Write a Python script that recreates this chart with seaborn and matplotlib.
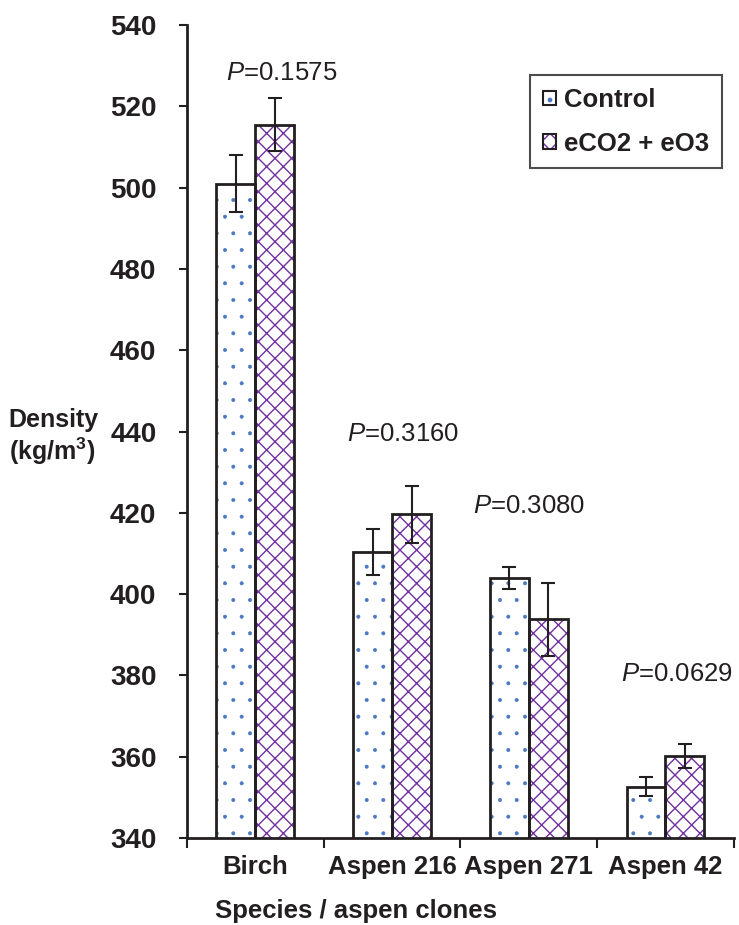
import pandas as pd
import matplotlib.pyplot as plt
import seaborn as sns
from matplotlib.patches import Patch
from matplotlib.legend_handler import HandlerTuple
from matplotlib.ticker import FixedLocator

# Dados
especies = ['Birch', 'Aspen 216', 'Aspen 271', 'Aspen 42']
tratamentos = ['Control', 'eCO2 + eO3']
controle = [501.0, 410.3, 403.9, 352.6]
controle_erro = [7.0, 5.7, 2.7, 2.3]
elevado = [515.5, 419.6, 393.8, 360.2]
elevado_erro = [6.5, 7.0, 9.0, 3.0]
p_valores = ['0.1575', '0.3160', '0.3080', '0.0629']
p_x = [0.19, 1.08, 2.00, 3.08]
p_altura = [528.3, 439.4, 421.8, 380.3]

df = pd.DataFrame({
    'Especie': especies * 2,
    'Tratamento': [tratamentos[0]] * 4 + [tratamentos[1]] * 4,
    'Densidade': controle + elevado,
    'Erro': controle_erro + elevado_erro,
})

sns.set_style('white')
plt.rcParams['font.family'] = ['Liberation Sans', 'DejaVu Sans']
plt.rcParams['mathtext.fontset'] = 'custom'
plt.rcParams['mathtext.it'] = 'Liberation Sans:italic'
plt.rcParams['mathtext.rm'] = 'Liberation Sans'
plt.rcParams['mathtext.bf'] = 'Liberation Sans:bold'
plt.rcParams['hatch.linewidth'] = 1.0

preto = '#231f20'
tam = 18.5

fig = plt.figure(figsize=(7.39, 9.25), dpi=100)
ax = fig.add_axes([0.253, 0.094, 0.74, 0.879])

cores_hatch = {'Control': '#4a78c0', 'eCO2 + eO3': '#7030a0'}
hatches = {'Control': '.', 'eCO2 + eO3': 'xx'}
larg_hatch = {'Control': 0.4, 'eCO2 + eO3': 1.0}

# Preenchimento com hachura
sns.barplot(data=df, x='Especie', y='Densidade', hue='Tratamento', hue_order=tratamentos,
            palette=['white', 'white'], width=0.57, gap=0, errorbar=None, legend=False, ax=ax)
n = len(especies)
for i, barra in enumerate(ax.patches[:2 * n]):
    trat = tratamentos[i // n]
    barra.set_hatch(hatches[trat])
    barra.set_edgecolor(cores_hatch[trat])
    barra.set_linewidth(0)
    if hasattr(barra, 'set_hatch_linewidth'):
        barra.set_hatch_linewidth(larg_hatch[trat])

# Contorno preto
sns.barplot(data=df, x='Especie', y='Densidade', hue='Tratamento', hue_order=tratamentos,
            palette=['white', 'white'], width=0.57, gap=0, errorbar=None, legend=False,
            fill=False, ax=ax)
for barra in ax.patches[2 * n:]:
    barra.set_edgecolor(preto)
    barra.set_linewidth(2)

# Barras de erro
for i, barra in enumerate(ax.patches[:2 * n]):
    xc = barra.get_x() + barra.get_width() / 2
    ax.errorbar(xc, df['Densidade'][i], yerr=df['Erro'][i], color=preto,
                capsize=5, elinewidth=1.5, capthick=1.5, zorder=5)

# Valores de P
for i in range(len(especies)):
    ax.text(p_x[i], p_altura[i], f'$\\mathit{{P}}$=' + p_valores[i], ha='center', va='center',
            fontsize=18.5, color=preto, clip_on=False)

ax.set_ylim(340, 540)
ax.set_xlim(-0.5, 3.5)
ax.set_yticks(range(340, 541, 20))
ax.tick_params(axis='y', direction='out', length=6, width=1.5, color=preto,
               labelsize=20, pad=16, left=True)
ax.tick_params(axis='x', which='major', length=0, labelsize=tam, pad=12)
ax.xaxis.set_minor_locator(FixedLocator([-0.5, 0.5, 1.5, 2.5, 3.5]))
ax.tick_params(axis='x', which='minor', direction='out', length=7, width=1.5,
               color=preto, bottom=True)
for lab in ax.get_xticklabels() + ax.get_yticklabels():
    lab.set_fontweight('bold')
    lab.set_color(preto)

for lado in ['top', 'right']:
    ax.spines[lado].set_visible(False)
for lado in ['left', 'bottom']:
    ax.spines[lado].set_linewidth(2)
    ax.spines[lado].set_color(preto)

ax.set_xlabel('Species / aspen clones', fontsize=tam, fontweight='bold', color=preto)
ax.xaxis.set_label_coords(0.309, -0.075)
ax.set_ylabel('')
fig.text(0.012, 0.527, 'Density\n(kg/m$\\mathbf{^3}$)', fontsize=18, fontweight='bold',
         color=preto, ha='left', va='center', linespacing=1.15)

# Legenda
handles = []
for t in tratamentos:
    fundo = Patch(facecolor='white', edgecolor=cores_hatch[t], hatch=hatches[t], linewidth=0)
    borda = Patch(facecolor='none', edgecolor=preto, linewidth=1.5)
    handles.append((fundo, borda))
leg = ax.legend(handles, tratamentos, loc='upper right', bbox_to_anchor=(0.978, 0.938),
                prop={'weight': 'bold', 'size': tam}, frameon=True, fancybox=False,
                handler_map={tuple: HandlerTuple(ndivide=1, pad=0)},
                handlelength=0.5, handleheight=0.5, handletextpad=0.3, labelspacing=0.75,
                borderpad=0.5, borderaxespad=0, edgecolor=preto)
leg.get_frame().set_linewidth(1.5)
for txt in leg.get_texts():
    txt.set_color(preto)

fig.savefig('out.png', dpi=100)
